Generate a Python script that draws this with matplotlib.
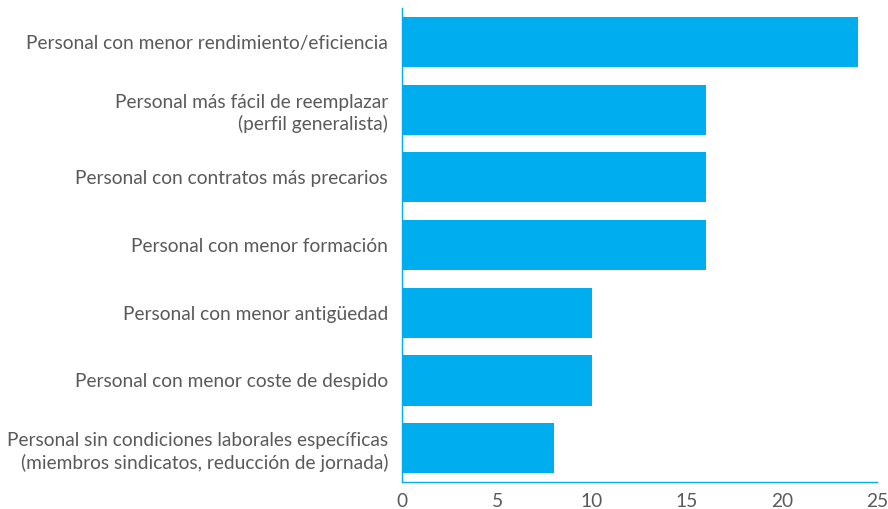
import matplotlib
matplotlib.use("Agg")
import matplotlib.pyplot as plt

categories = [
    "Personal con menor rendimiento/eficiencia",
    "Personal más fácil de reemplazar\n(perfil generalista)",
    "Personal con contratos más precarios",
    "Personal con menor formación",
    "Personal con menor antigüedad",
    "Personal con menor coste de despido",
    "Personal sin condiciones laborales específicas\n(miembros sindicatos, reducción de jornada)",
]
values = [24, 16, 16, 16, 10, 10, 8]
xticks = [0, 5, 10, 15, 20, 25]

bar_color = "#00AEEF"
text_color = "#5a5a5a"

plt.rcParams["font.family"] = ["Lato", "DejaVu Sans"]

fig = plt.figure(figsize=(8.88, 5.09), dpi=100)
ax = fig.add_axes([0.4527, 0.053, 0.5349, 0.931])

pos = list(range(len(categories)))
ax.barh(pos, values, height=0.74, color=bar_color, zorder=2)

ax.set_ylim(len(categories) - 0.5, -0.5)
ax.set_xlim(0, 25)
ax.set_xticks(xticks)
ax.set_yticks(pos)
ax.set_yticklabels(categories, ha="right", multialignment="right", linespacing=1.3)

for side in ("top", "right"):
    ax.spines[side].set_visible(False)
for side in ("left", "bottom"):
    ax.spines[side].set_color(bar_color)
    ax.spines[side].set_linewidth(1.0)

ax.tick_params(axis="both", length=0, colors=text_color, labelsize=13.8)
ax.tick_params(axis="y", pad=10)
ax.tick_params(axis="x", pad=8)

fig.savefig("out.png", dpi=100)
